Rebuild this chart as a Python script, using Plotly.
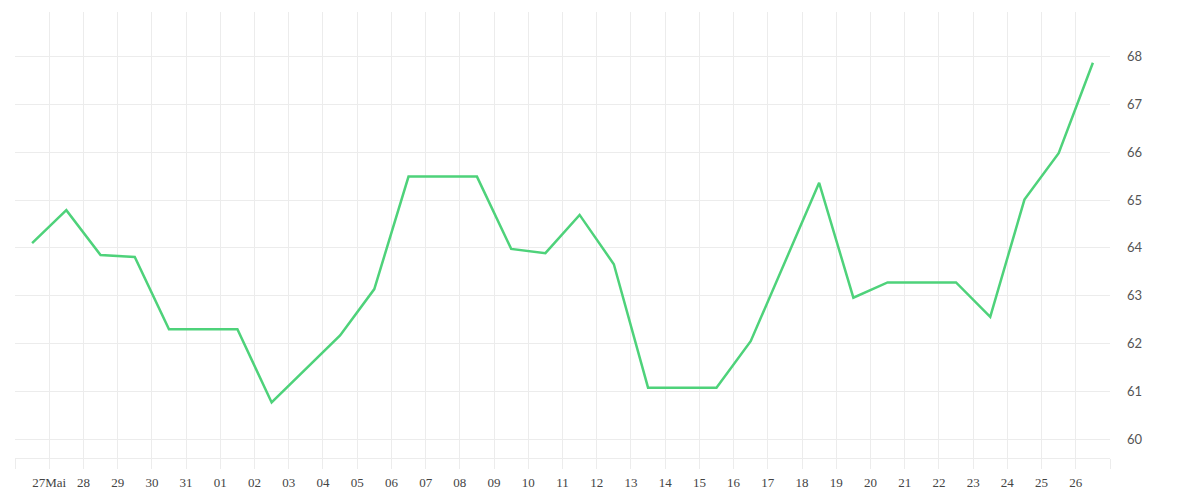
import plotly.graph_objects as go

# Data (daily values, sampled at mid-day between date gridlines)
values = [64.10, 64.79, 63.85, 63.81, 62.30, 62.30, 62.30, 60.77,
          61.47, 62.17, 63.14, 65.49, 65.49, 65.49, 63.98, 63.89,
          64.69, 63.66, 61.08, 61.08, 61.08, 62.05, 63.70, 65.36,
          62.96, 63.28, 63.28, 63.28, 62.56, 65.01, 65.98, 67.87]
x_positions = [i - 0.5 for i in range(len(values))]

tick_labels = ["", "27Mai", "28", "29", "30", "31", "01", "02", "03", "04", "05",
               "06", "07", "08", "09", "10", "11", "12", "13", "14", "15",
               "16", "17", "18", "19", "20", "21", "22", "23", "24", "25",
               "26", ""]
tick_positions = list(range(-1, len(tick_labels) - 1))

y_ticks = [60, 61, 62, 63, 64, 65, 66, 67, 68]

fig = go.Figure()
fig.add_trace(go.Scatter(
    x=x_positions, y=values, mode="lines",
    line=dict(color="#4ed27a", width=2.5),
    hoverinfo="y", showlegend=False,
))

grid = "#ececec"
fig.update_layout(
    width=1192, height=492,
    margin=dict(l=7, r=90, t=4, b=42),
    paper_bgcolor="white", plot_bgcolor="white",
    xaxis=dict(
        range=[-1, 31], tickmode="array",
        tickvals=tick_positions, ticktext=tick_labels,
        showgrid=True, gridcolor=grid, gridwidth=1,
        ticks="outside", ticklen=10, tickcolor=grid, tickwidth=1,
        showline=True, linecolor=grid, linewidth=1,
        zeroline=False,
        ticklabelstandoff=2,
        tickfont=dict(family="Liberation Serif, serif", size=13, color="#444"),
    ),
    yaxis=dict(
        range=[59.61, 68.93], side="right", tickmode="array",
        tickvals=y_ticks, ticktext=[str(v) for v in y_ticks],
        showgrid=True, gridcolor=grid, gridwidth=1,
        ticks="", showline=False, zeroline=False,
        ticklabelstandoff=16,
        tickfont=dict(family="Lato, sans-serif", size=13, color="#555"),
    ),
)

fig.write_html("out.html")
